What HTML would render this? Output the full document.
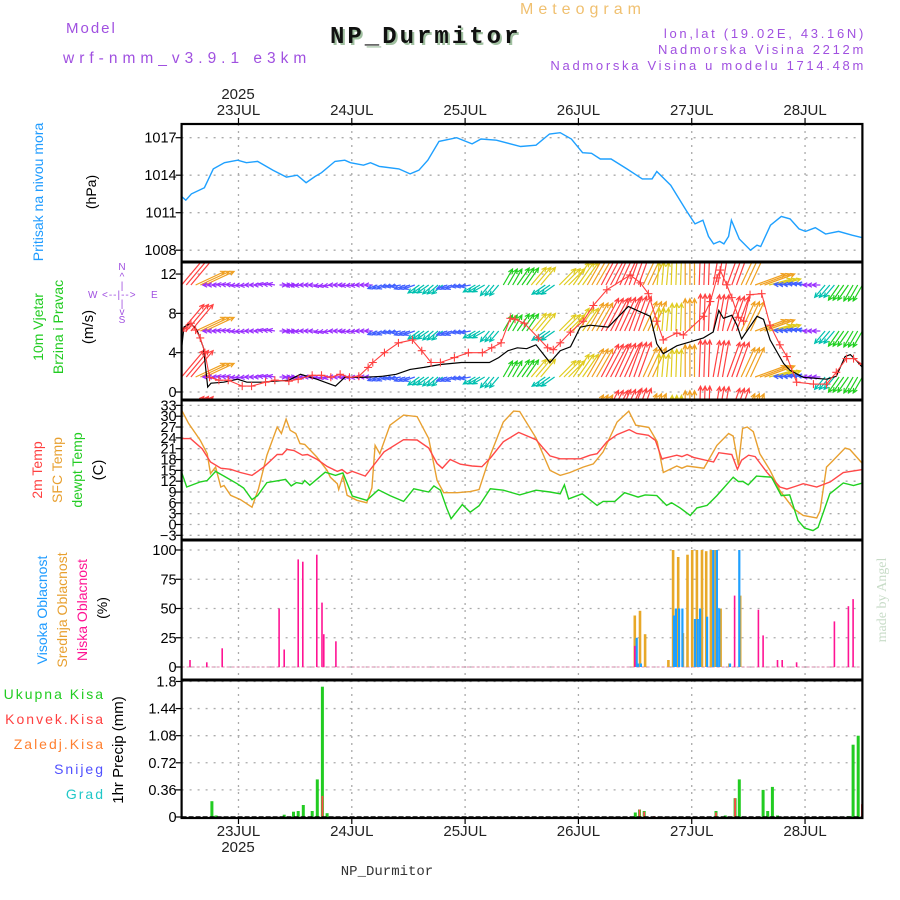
<!DOCTYPE html>
<html><head><meta charset="utf-8"><title>Meteogram NP_Durmitor</title>
<style>
html,body{margin:0;padding:0;background:#fff;}
svg{display:block;font-family:"Liberation Sans",sans-serif;}
</style></head>
<body>
<svg id="chart" width="900" height="900" viewBox="0 0 900 900" xmlns="http://www.w3.org/2000/svg">
  <defs>
    <clipPath id="clipP"><rect x="181.6" y="124" width="680.8" height="138"/></clipPath>
    <clipPath id="clipW"><rect x="181.6" y="262" width="680.8" height="138"/></clipPath>
    <clipPath id="clipT"><rect x="181.6" y="400" width="680.8" height="140"/></clipPath>
  </defs>
  <g>
    <text x="66" y="33" font-size="15" fill="#a050e0" letter-spacing="2">Model</text>
    <text x="63" y="63" font-size="15.5" fill="#a050e0" letter-spacing="5">wrf-nmm_v3.9.1 e3km</text>
    <text x="520" y="14" font-size="16" fill="#f0c070" letter-spacing="5">Meteogram</text>
    <text x="332" y="45" font-size="24" font-weight="bold" fill="#a0c0a0" letter-spacing="3" font-family="Liberation Mono, monospace">NP_Durmitor</text>
    <text x="330" y="43" font-size="24" font-weight="bold" fill="#111" letter-spacing="3" font-family="Liberation Mono, monospace">NP_Durmitor</text>
    <text x="866" y="38" font-size="13" fill="#a050e0" text-anchor="end" letter-spacing="2.7">lon,lat (19.02E, 43.16N)</text>
    <text x="866" y="54" font-size="13" fill="#a050e0" text-anchor="end" letter-spacing="2.7">Nadmorska Visina 2212m</text>
    <text x="866" y="70" font-size="13" fill="#a050e0" text-anchor="end" letter-spacing="2.7">Nadmorska Visina u modelu 1714.48m</text>
    <text x="238" y="99" font-size="15" fill="#222" text-anchor="middle">2025</text>
    <text x="238" y="852" font-size="15" fill="#222" text-anchor="middle">2025</text>
    <text x="387" y="875" font-size="14" fill="#333" text-anchor="middle" font-family="Liberation Mono, monospace">NP_Durmitor</text>
    <text transform="translate(886,600) rotate(-90)" font-size="14" fill="#c8dcc8" text-anchor="middle" font-family="Liberation Serif, serif">made by Angel</text>
  </g>
  <g>
    <text transform="translate(43,192) rotate(-90)" font-size="14" fill="#1e9bff" text-anchor="middle">Pritisak na nivou mora</text>
    <text transform="translate(96,192) rotate(-90)" font-size="14" fill="#000" text-anchor="middle">(hPa)</text>
    <text transform="translate(43,327) rotate(-90)" font-size="14" fill="#22cc22" text-anchor="middle">10m Vjetar</text>
    <text transform="translate(63,327) rotate(-90)" font-size="14" fill="#22cc22" text-anchor="middle">Brzina i Pravac</text>
    <text transform="translate(93,327) rotate(-90)" font-size="15" fill="#000" text-anchor="middle">(m/s)</text>
    <g font-size="10" fill="#a050e0">
      <text x="122" y="270" text-anchor="middle">N</text>
      <text x="122" y="280" text-anchor="middle">^</text>
      <text x="122" y="289" text-anchor="middle">|</text>
      <text x="88" y="298">W</text>
      <text x="102" y="298" letter-spacing="1">&lt;--|--&gt;</text>
      <text x="151" y="298">E</text>
      <text x="122" y="307" text-anchor="middle">|</text>
      <text x="122" y="315" text-anchor="middle">v</text>
      <text x="122" y="323" text-anchor="middle">S</text>
    </g>
    <text transform="translate(42,470) rotate(-90)" font-size="14" fill="#ff4040" text-anchor="middle">2m Temp</text>
    <text transform="translate(62,470) rotate(-90)" font-size="14" fill="#e8a030" text-anchor="middle">SFC Temp</text>
    <text transform="translate(82,470) rotate(-90)" font-size="14" fill="#22cc22" text-anchor="middle">dewpt Temp</text>
    <text transform="translate(103,470) rotate(-90)" font-size="15" fill="#000" text-anchor="middle">(C)</text>
    <text transform="translate(47,610) rotate(-90)" font-size="14" fill="#1e9bff" text-anchor="middle">Visoka Oblacnost</text>
    <text transform="translate(67,610) rotate(-90)" font-size="14" fill="#e8a030" text-anchor="middle">Srednja Oblacnost</text>
    <text transform="translate(87,610) rotate(-90)" font-size="14" fill="#ff1493" text-anchor="middle">Niska Oblacnost</text>
    <text transform="translate(107,608) rotate(-90)" font-size="14" fill="#000" text-anchor="middle">(%)</text>
    <text x="105" y="699" font-size="14" fill="#22cc22" text-anchor="end" letter-spacing="2">Ukupna  Kisa</text>
    <text x="105" y="724" font-size="14" fill="#ff4040" text-anchor="end" letter-spacing="2">Konvek.Kisa</text>
    <text x="105" y="749" font-size="14" fill="#ff8030" text-anchor="end" letter-spacing="2">Zaledj.Kisa</text>
    <text x="105" y="774" font-size="14" fill="#5050ff" text-anchor="end" letter-spacing="2">Snijeg</text>
    <text x="105" y="799" font-size="14" fill="#20c8c8" text-anchor="end" letter-spacing="2">Grad</text>
    <text transform="translate(123,750) rotate(-90)" font-size="15" fill="#000" text-anchor="middle">1hr Precip (mm)</text>
  </g>
  <g id="plot"></g>
</svg>
<script>
// ---------- data ----------
const dayTickHours = [12.2, 36.5, 60.8, 85.1, 109.4, 133.7];
const dayLabels = ["23JUL","24JUL","25JUL","26JUL","27JUL","28JUL"];

const presTicks = [1008, 1011, 1014, 1017];
const presHours = [0,0.9,2.1,4.9,6.8,9.2,12,13.9,16.3,19.6,22.5,24.8,26.7,28.6,30,32.9,35,36.2,39,40.5,42.4,46.6,49,50.9,52.8,55.2,59,62.3,64.2,67.5,72.7,76,78.9,81.2,83.6,86,87.9,89.8,92.1,95.5,98.8,100.9,101.9,104.9,108.2,110.1,111.8,113,114.1,115.4,116.3,117.3,117.9,119.6,122,123.4,124.2,126.3,128.6,130.5,132.4,133.8,135.9,138.1,140.9,143.8,146];
const presValues = [1012.3,1012.0,1012.5,1013.0,1014.5,1015.0,1015.2,1015.0,1015.1,1014.4,1013.85,1014,1013.4,1013.9,1014.2,1015.1,1015.2,1015,1014.8,1015,1014.7,1014.5,1014.1,1014.4,1015.2,1016.7,1017,1016.5,1016.9,1016.8,1016.3,1016.4,1017.3,1017.4,1016.9,1015.8,1015.75,1015.3,1015.3,1014.5,1013.7,1013.7,1014.3,1013.2,1011.2,1010.1,1010.4,1009.1,1008.5,1008.7,1008.5,1009.1,1010.4,1008.9,1008,1008.4,1008.3,1010,1010.7,1010.5,1009.7,1009.5,1009.8,1009.3,1009.5,1009.2,1009.0];

const windTicks = [0, 4, 8, 12];
const speedHours = [0,0.5,1.9,3.3,4.7,5.6,6.3,9,12,14,17,20,23,25.5,29,33,35,39,43,46,49,52,55.5,60,64,66,68,70,72,74,76,78,79,81.2,83.4,85.5,87.6,91.5,95.8,100.5,101.9,103.3,106.2,111.9,114,115.2,116.2,118,119.1,120.1,123.4,124.8,126.2,129.1,130.5,133.3,138.3,140.4,142.3,143.4,144.7,146];
const speedValues = [4.4,6.6,7.0,6.3,4.5,0.5,0.9,1.0,1.3,1.0,1.0,1.1,1.2,1.8,1.3,0.6,1.5,1.5,1.6,1.8,2.3,2.5,2.8,3.0,3.0,3.0,3.5,4.2,4.5,4.4,4.8,3.6,3.0,4.2,4.6,6.6,6.8,6.6,8.7,7.7,4.9,3.9,4.7,5.5,6.1,8.3,7.5,7.8,6.8,5.4,7.7,7.4,5.3,2.9,2.2,1.5,1.3,1.6,3.6,3.8,3.2,2.5];
const gustHours = [0,1,2,3,4,5,6,8,10,13,15,18,20,23,25,28,30,32,34,36,38,40,41,43.5,46.5,49.5,51.5,53.5,55.5,58.5,61.5,64.5,66.5,68.5,70.5,71.5,73.5,76.5,78.5,79.7,81.2,83.4,86.1,88.3,91.2,96.2,98.4,100.1,101.9,103.3,106.2,107.6,111.9,113.4,114.8,115.5,116.9,118,119.4,120.5,121.9,124.4,126.2,128.3,129.8,131.9,135.5,138.3,140.4,142.6,144.1,146];
const gustValues = [6.2,6.5,7.0,6.3,5.5,4.0,1.5,1.2,1.2,0.6,0.6,1.0,1.2,1.1,1.3,1.7,1.7,1.5,1.8,1.5,1.6,2.5,3.0,4.0,5.0,5.3,4.2,3.0,3.0,3.5,4.0,4.0,4.5,5.0,7.5,7.4,7.0,5.5,4.5,4.3,5.0,6.1,7.2,8.8,10.4,11.9,11.1,10.0,7.2,5.3,6.0,5.8,7.7,9.2,11.6,12.4,10.9,9.6,7.6,7.2,9.9,10.0,6.8,4.8,3.6,1.0,0.8,0.8,2.0,3.4,3.4,2.8];
const arrowHours = [0,3,6,9,12,15,18,21,24,27,30,33,36,39,42,45,48,51,54,57,60,63,66,69,72,75,78,81,84,87,90,93,96,99,102,105,108,111,114,117,120,123,126,129,132,135,138,141,144];
const arrowDir = [50,25,180,175,185,180,170,0,185,180,190,180,185,180,200,190,200,215,220,200,190,210,230,60,55,50,215,45,55,60,62,65,70,65,85,88,90,88,80,70,65,20,15,175,170,180,230,235,240];
const arrowSpd = [7.5,7,1.5,1.5,1.5,1.5,1.5,1.5,1.8,1.8,1.6,1.5,1.8,1.8,2.2,2.2,2.5,3,3,2.5,2.2,3,3,4,4.5,5,3.5,5,6,7,8,8,8,7,5,6,7,8,8,8,7,7,5,2,2,1.8,3.5,4,4];

const tempTicks = [-3,0,3,6,9,12,15,18,21,24,27,30,33];
const t2Hours = [0,1.9,4.4,6.2,8.4,10.5,12.6,15.1,17.6,20.5,21.6,22.6,24.1,25.9,27,29.1,31.2,33.4,34.4,35.5,36.6,39.4,43.4,47.6,50.5,53,54.8,55.9,57.6,59.8,62.3,64.4,66.2,69,72.3,76,79,81.2,85.5,87.6,89.1,91.2,93.4,96,97.6,100.1,101.6,103,106.2,107.3,108.4,109.8,114.1,115.2,118,119.2,120.1,121.6,123,125.5,128.3,129.8,131.2,133.3,136.2,139.1,141.9,146];
const t2Values = [23.8,23.8,21,17.3,15.6,15.3,14.4,13.6,15.9,19.4,19.4,20.8,20.5,19.2,19.4,18,16.1,14.7,15.2,14.1,14.7,13.4,20.1,23.5,23.4,21.2,16.9,15.6,18,16.7,16.2,16,18.4,22.9,25.5,23.5,19,18.2,18.2,19.2,19.6,22.9,24.9,26.3,25.2,24.7,23.3,18.2,19.2,18.8,19.4,18.6,17.3,19.9,19.4,15.3,17.8,19.2,18.8,14.5,10.4,9.8,10.4,11.3,10.4,11.8,14.4,15.2];
const sfcHours = [0,1.5,4,5.5,6.2,7.3,8.4,9.1,10.5,12.6,15.1,16.5,18.3,20.5,21.4,22.4,23.3,24.5,25.4,26.4,29,31.2,31.9,33.4,33.7,34.6,35.5,37.6,39.7,40.8,41.5,42.5,44.7,47.6,50.5,53,54.8,56.2,59.1,61.9,63.8,66.2,69,71.2,72.5,76,79,81.2,83.3,86.1,88.3,90.4,93.4,95.9,97.4,100.2,102,103.3,106.2,107.3,108.4,112,114.8,117.3,118.3,119.4,120.3,121.3,122.6,124,126.2,128.3,131.2,133.3,136.2,136.9,138.3,139.4,142.3,143.3,146];
const sfcValues = [31.7,28,23.3,19.6,14.1,15.9,10.4,10.8,8.1,6.9,4.8,9.9,19.2,27,25.2,29.2,26.1,25.2,22.4,22.2,18.7,15,13.1,11.3,9.7,13.4,8.1,6.7,6,10.1,21.9,19.6,27.5,30.3,29.9,23.8,12.2,8.8,8.8,9.1,9.7,19.2,28.4,31.4,31.3,24,15,13.6,14.4,15.9,16.8,20.1,28.4,31.4,27.5,26.9,22.9,14.4,16.2,15.6,16.2,15.6,21.9,25.2,24.5,16.4,26.6,27,25.7,19.6,15,9.4,4.4,2.5,1.8,3.7,15.9,17.3,21.2,20.8,16.9];
const tdHours = [0,1.1,4,5.5,7.3,9.1,11.9,13.3,15.1,16.3,18.3,22.3,23.5,24.6,25.9,26.4,27.5,30.8,33,34.6,36.6,39.7,42.2,44.7,47.6,49.8,53,54.1,55.5,56.9,57.8,60.2,61.9,63.8,66.2,69,72.5,76,79,81.2,82.1,83,85.9,89.1,90.4,92.9,95,97.9,99.4,101.9,104,105.1,106.9,109.1,110.5,112.7,114.8,118.3,119.4,120.4,121.5,123.3,126.5,128.6,130.4,132.2,133.6,135.4,136.5,139,141.9,144.1,146];
const tdValues = [14.5,10.4,11.8,12.2,14.7,13.4,11.3,10.1,6.9,8,11.6,12.5,10.7,11.6,11.3,12.2,10.9,14.5,13.6,14.3,7.9,6.7,9.6,8,6.4,9.9,9,10.7,9.5,4.4,1.6,5.5,3.4,5.2,9.9,9.5,8.2,9.5,9,8.5,11,7.1,8.5,5.3,6.4,6.4,8.8,7.6,8.2,8,5.3,6,4.6,2.5,4.6,5.3,8,13.1,11.9,11.9,11,13.4,13.1,8,8.2,1.1,-1,-1.7,-0.8,8.5,11.5,10.8,11.5];

const cloudTicks = [0,25,50,75,100];
const lowHours = [1.8,5.4,8.7,20.9,22,25,26,29,30.1,30.5,33.1,97.2,118.6,123.7,124.7,127.8,128.8,131.9,140,143,144];
const lowValues = [6,4,16,50,15,92,90,96,55,28,22,18,61,49,27,6,6,4,39,52,58];
const midHours = [97.2,98.3,99.4,104.4,105.4,106.5,107.5,108.5,109.5,110.5,111.6,112.5,113.5,114.5,115.6,117.5,119.8];
const midValues = [44,48,28,6,100,94,29,96,100,100,100,99,100,100,50,3,61];
const highHours = [97.6,97.9,98.5,105.6,106,106.7,107.4,110.1,110.7,111.2,112.7,114,114.8,115.3,117.6,119.6];
const highValues = [25,3,3,44,50,50,50,41,41,50,43,100,100,50,3,100];

const precipTicks = [0,0.36,0.72,1.08,1.44,1.8];
const precipTickLabels = ["0","0.36","0.72","1.08","1.44","1.8"];
const rainHours = [6.5,7.4,22,24,25,26.1,28,29.1,30.2,31.2,97.3,98.2,99.2,114.6,116.6,118.7,119.6,124.7,125.7,126.7,127.8,143,144,145.1];
const rainValues = [0.21,0.02,0.03,0.07,0.08,0.16,0.08,0.5,1.73,0.05,0.06,0.10,0.08,0.08,0.02,0.25,0.5,0.36,0.08,0.40,0.02,0.01,0.96,1.08];
const convHours = [30.2,98.2,99.2,101.3,114.6,118.7,145.9];
const convValues = [0.28,0.10,0.07,0.01,0.06,0.25,0.17];

// ---------- scales ----------
const X0 = 181.6, PXH = 4.663, XR = 862.4;
function xS(h){ return X0 + h*PXH; }
function yP(p){ return 137.7 + (1017-p)*12.5; }
function yW(v){ return 392 - v*9.83; }
function yT(t){ return 524.5 - t*3.61; }
function yC(c){ return 667 - c*1.17; }
function yR(r){ return 817 - r*75.3; }

const NS = "http://www.w3.org/2000/svg";
const plot = document.getElementById("plot");
function mk(tag, attrs, parent){
  const e = document.createElementNS(NS, tag);
  for (const k in attrs) e.setAttribute(k, attrs[k]);
  (parent||plot).appendChild(e);
  return e;
}
function grp(name, clip){
  const g = mk("g", clip ? {"clip-path":"url(#"+clip+")"} : {});
  
  
  return g;
}

const panels = [
  {name:"pressure", top:124, bot:262, ticks:presTicks, y:yP, labels:presTicks.map(String)},
  {name:"wind", top:262, bot:400, ticks:windTicks, y:yW, labels:windTicks.map(String)},
  {name:"temperature", top:400, bot:540, ticks:tempTicks, y:yT, labels:tempTicks.map(v=>v<0?"\u2212"+(-v):String(v))},
  {name:"cloud", top:540, bot:680, ticks:cloudTicks, y:yC, labels:cloudTicks.map(String)},
  {name:"precip", top:680, bot:818, ticks:precipTicks, y:yR, labels:precipTickLabels}
];

panels.forEach(p=>{
  const g = grp(p.name+"-grid");
  p.ticks.forEach((t,i)=>{
    const y = p.y(t);
    const gl = mk("line",{x1:X0,x2:XR,y1:y,y2:y,stroke:"#aaa","stroke-width":1.3,"stroke-dasharray":"2,6"},g);
    
    
    const tk = mk("line",{x1:X0-6,x2:X0,y1:y,y2:y,stroke:"#000","stroke-width":1.2},g);
    
    
    const tx = mk("text",{x:X0-5,y:y+5,"font-size":14.5,"text-anchor":"end",fill:"#000"},g);
    tx.textContent = p.labels[i];
    
    
  });
  dayTickHours.forEach(h=>{
    const x = xS(h);
    const vl = mk("line",{x1:x,x2:x,y1:p.top,y2:p.bot,stroke:"#aaa","stroke-width":1.3,"stroke-dasharray":"2,5"},g);
    
    
  });
});

const dl = grp("day-labels");
dayTickHours.forEach((h,i)=>{
  const x = xS(h);
  const t1 = mk("text",{x:x,y:115,"font-size":15,"text-anchor":"middle",fill:"#222"},dl);
  t1.textContent = dayLabels[i];
  
  
  const t2 = mk("text",{x:x,y:836,"font-size":15,"text-anchor":"middle",fill:"#222"},dl);
  t2.textContent = dayLabels[i];
  
  
  const k1 = mk("line",{x1:x,x2:x,y1:118,y2:124,stroke:"#000","stroke-width":1.2},dl);
  
  
  const k2 = mk("line",{x1:x,x2:x,y1:818,y2:824,stroke:"#000","stroke-width":1.2},dl);
  
  
});

function pathFrom(hours, vals, yf){
  return hours.map((h,i)=>(i?"L":"M")+xS(h).toFixed(1)+","+yf(vals[i]).toFixed(1)).join("");
}

// pressure
const gp = grp("pressure-series","clipP");
const pl = mk("path",{d:pathFrom(presHours,presValues,yP),fill:"none",stroke:"#1ea0ff","stroke-width":1.4},gp);



// wind arrows (each 3-hourly value drawn for its 3 hourly slots)
const gw = grp("wind-series","clipW");
const rowBases = [285, 331, 377, 423];
function spdColor(s){
  if (s<2) return "#9b30ff";
  if (s<2.6) return "#4060ff";
  if (s<3.6) return "#00c0b0";
  if (s<5) return "#20d020";
  if (s<6.5) return "#e0cc20";
  if (s<7.5) return "#f0a020";
  return "#ff4040";
}
rowBases.forEach((by)=>{
  arrowHours.forEach((h,i)=>{
    for (let s=0; s<3; s++){
      const hh = h + s;
      if (hh > 146) continue;
      const x = xS(hh), a = arrowDir[i]*Math.PI/180, L = arrowSpd[i]*4.6;
      const x2 = x + L*Math.cos(a), y2 = by - L*Math.sin(a);
      const c = spdColor(arrowSpd[i]);
      const ha = 0.45;
      const hx1 = x2 - 5*Math.cos(a-ha), hy1 = y2 + 5*Math.sin(a-ha);
      const hx2 = x2 - 5*Math.cos(a+ha), hy2 = y2 + 5*Math.sin(a+ha);
      const ar = mk("path",{d:`M${x.toFixed(1)},${by}L${x2.toFixed(1)},${y2.toFixed(1)}M${hx1.toFixed(1)},${hy1.toFixed(1)}L${x2.toFixed(1)},${y2.toFixed(1)}L${hx2.toFixed(1)},${hy2.toFixed(1)}`,fill:"none",stroke:c,"stroke-width":1.2},gw);
      
      
    }
  });
});
const sp = mk("path",{d:pathFrom(speedHours,speedValues,yW),fill:"none",stroke:"#000","stroke-width":1.2},gw);


const gu = mk("path",{d:pathFrom(gustHours,gustValues,yW),fill:"none",stroke:"#ff4040","stroke-width":1.1},gw);


gustHours.forEach((h,i)=>{
  const x = xS(h), y = yW(gustValues[i]);
  const pm = mk("path",{d:`M${x-4},${y}L${x+4},${y}M${x},${y-4}L${x},${y+4}`,stroke:"#ff4040","stroke-width":1.1},gw);
  
  
});

// temperature
const gt = grp("temperature-series","clipT");
const l1 = mk("path",{d:pathFrom(sfcHours,sfcValues,yT),fill:"none",stroke:"#e8a030","stroke-width":1.4},gt);


const l2 = mk("path",{d:pathFrom(t2Hours,t2Values,yT),fill:"none",stroke:"#ff4848","stroke-width":1.4},gt);


const l3 = mk("path",{d:pathFrom(tdHours,tdValues,yT),fill:"none",stroke:"#20d020","stroke-width":1.4},gt);



// cloud bars
const gc = grp("cloud-series");
const bl = mk("line",{x1:X0,x2:XR,y1:yC(0),y2:yC(0),stroke:"#e8b0c8","stroke-width":1.5,"stroke-dasharray":"3,2"},gc);


function bars(hours, vals, yf, color, w, name, g){
  hours.forEach((h,i)=>{
    const x = xS(h), y = yf(vals[i]), y0 = yf(0);
    const r = mk("rect",{x:(x-w/2).toFixed(1),y:y.toFixed(1),width:w,height:Math.max(0.5,y0-y).toFixed(1),fill:color},g);
    
    
  });
}
bars(midHours, midValues, yC, "#e8a828", 2.6, "mid-cloud-bar", gc);
bars(highHours, highValues, yC, "#1ea0ff", 2.2, "high-cloud-bar", gc);
bars(lowHours, lowValues, yC, "#ff1493", 1.6, "low-cloud-bar", gc);

// precipitation bars
const gr = grp("precip-series");
bars(rainHours, rainValues, yR, "#22cc22", 3, "total-rain-bar", gr);
bars(convHours, convValues, yR, "#ff4848", 1.8, "convective-rain-bar", gr);
const pb = mk("line",{x1:X0,x2:XR,y1:817,y2:817,stroke:"#000","stroke-width":1.5,"stroke-dasharray":"5,2"},gr);



// frames
const gf = grp("panel-frames");
const fr = mk("rect",{x:X0,y:124,width:XR-X0,height:694,fill:"none",stroke:"#000","stroke-width":2.2},gf);


[262,400,540,680].forEach(y=>{
  const s = mk("line",{x1:X0-1,x2:XR+1,y1:y,y2:y,stroke:"#000","stroke-width":3},gf);
  
  
});
</script>
</body></html>
